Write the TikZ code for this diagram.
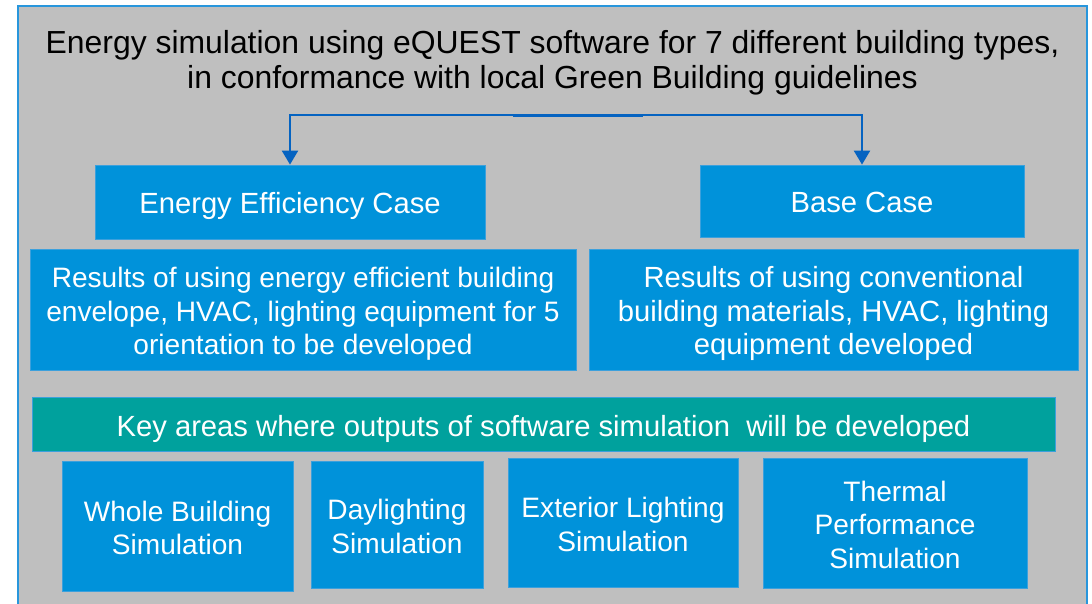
\documentclass[tikz,border=0pt]{standalone}
\usepackage{fontspec}
\setmainfont{Liberation Sans}
\usetikzlibrary{arrows.meta}
\definecolor{boxblue}{RGB}{0,146,218}
\definecolor{boxedge}{RGB}{60,160,220}
\definecolor{tealbar}{RGB}{0,161,157}
\definecolor{bggray}{RGB}{191,191,191}
\definecolor{arrowblue}{RGB}{5,99,193}
\definecolor{frameblue}{RGB}{40,150,220}
\newcommand{\lowtext}[2]{\raisebox{-#1}[\height][\depth]{\begin{tabular}{@{}c@{}}#2\end{tabular}}}
\tikzset{
  bx/.style={draw=boxedge, line width=0.8pt, fill=boxblue, text=white, align=center,
    font=\fontsize{29.2}{34}\selectfont, inner sep=0pt},
  smallbx/.style={bx, font=\fontsize{28.1}{33.4}\selectfont},
  keybar/.style={bx, fill=tealbar},
  conn/.style={draw=arrowblue, line width=2.2pt, -{Triangle[width=16pt,length=14pt]}},
}
\begin{document}
\begin{tikzpicture}[x=1pt,y=-1pt]
\useasboundingbox (0,0) rectangle (1092,603);
\fill[white] (0,0) rectangle (1092,603);
\draw[draw=frameblue, line width=2pt, fill=bggray] (18,6) rectangle (1087,620);
\node[align=center, font=\fontsize{31.9}{35}\selectfont, inner sep=0pt] (title) at (552.5,63)
  {Energy simulation using eQUEST software for 7 different building types,\\in conformance with local Green Building guidelines};
\node[bx, minimum width=390pt, minimum height=74pt] (ee) at (290,202) {\lowtext{5pt}{Energy Efficiency Case}};
\node[bx, minimum width=324pt, minimum height=72pt] (base) at (862,201) {\lowtext{5pt}{Base Case}};
\node[smallbx, minimum width=546pt, minimum height=121pt] (res1) at (303,309.5)
  {\lowtext{5pt}{Results of using energy efficient building\\envelope, HVAC, lighting equipment for 5\\orientation to be developed}};
\node[bx, minimum width=489pt, minimum height=121pt, font=\fontsize{29.2}{33.5}\selectfont] (res2) at (833.5,309.5)
  {\lowtext{5pt}{Results of using conventional\\building materials, HVAC, lighting\\equipment developed}};
\node[keybar, minimum width=1023pt, minimum height=54pt] (key) at (543.5,424)
  {\lowtext{5.5pt}{Key areas where outputs of software simulation\ \ will be developed}};
\node[smallbx, minimum width=231pt, minimum height=130pt] (b1) at (177.5,526) {\lowtext{5.5pt}{Whole Building\\Simulation}};
\node[smallbx, minimum width=172pt, minimum height=127pt] (b2) at (397,524.5) {\lowtext{5.5pt}{Daylighting\\Simulation}};
\node[smallbx, minimum width=230pt, minimum height=129pt] (b3) at (623,522.5) {\lowtext{5.5pt}{Exterior Lighting\\Simulation}};
\node[smallbx, minimum width=264pt, minimum height=130pt] (b4) at (895,523) {\lowtext{5pt}{Thermal\\Performance\\Simulation}};
\coordinate (split) at (578,115);
\draw[draw=arrowblue, line width=3pt] ([xshift=-65pt,yshift=-0.8pt]split) -- ([xshift=65pt,yshift=-0.8pt]split);
\draw[conn] (split) -| (ee.north);
\draw[conn] (split) -| (base.north);
\end{tikzpicture}
\end{document}
